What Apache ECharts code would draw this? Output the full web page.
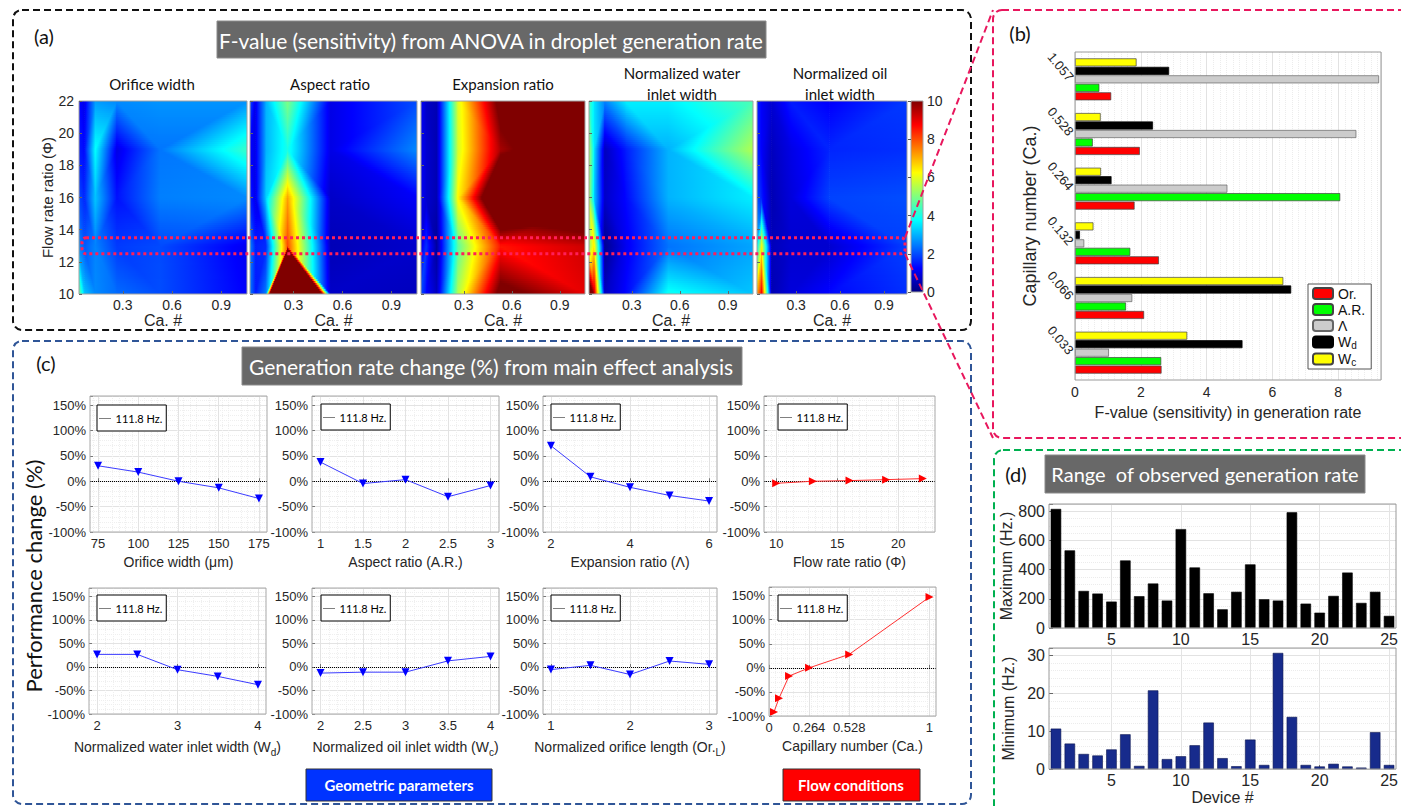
<!DOCTYPE html>
<html>
<head>
<meta charset="utf-8">
<script src="https://cdn.jsdelivr.net/npm/echarts@6/dist/echarts.min.js"></script>
<style>html,body{margin:0;padding:0;background:#fff;}#main{width:1401px;height:806px;}</style>
</head>
<body>
<div id="main"></div>
<script>
// ---------------- DATA ----------------
// (a) F-value maps: rows = flow rate ratio (phiValues), columns = capillary number (caValues)
const caValues = [0.033, 0.066, 0.132, 0.264, 0.528, 1.057];
const phiValues = [10, 13, 16, 19, 22];
const heatTickValues = [0.3, 0.6, 0.9];
const colorbarRange = [0, 10];
const heatTitles = [['Orifice width'], ['Aspect ratio'], ['Expansion ratio'], ['Normalized water', 'inlet width'], ['Normalized oil', 'inlet width']];

// (b) F-value at Φ = 13 for each Ca.
const caCategories = ['0.033', '0.066', '0.132', '0.264', '0.528', '1.057'];
const fOr = [2.63, 2.10, 2.55, 1.81, 1.97, 1.10];
const fAR = [2.62, 1.55, 1.68, 8.06, 0.54, 0.74];
const fLambda = [1.03, 1.74, 0.28, 4.63, 8.55, 9.24];
const fWd = [5.09, 6.57, 0.15, 1.11, 2.37, 2.86];
const fWc = [3.41, 6.33, 0.56, 0.79, 0.78, 1.87];

const fOrificeMap = [
  [5.0, 3.2, 2.6, 2.3, 2.0, 1.2],
  fOr,
  [2.0, 1.6, 3.2, 1.4, 2.5, 2.6],
  [1.5, 1.3, 3.8, 1.0, 2.4, 4.3],
  [1.3, 1.0, 2.8, 2.6, 2.7, 2.7]
];
const fAspectMap = [
  [2.5, 1.5, 2.5, 48, 0.7, 0.6],
  fAR,
  [1.6, 1.0, 3.3, 7.2, 0.7, 1.2],
  [1.3, 1.0, 3.0, 4.0, 1.0, 2.6],
  [2.0, 1.0, 3.0, 5.0, 1.0, 2.0]
];
const fExpansionMap = [
  [2.0, 1.3, 0.6, 5.5, 10.5, 9.0],
  fLambda,
  [1.2, 0.8, 0.5, 6.3, 13, 12],
  [1.2, 0.8, 0.5, 5.8, 9.6, 12],
  [1.3, 0.7, 0.5, 5.9, 10.5, 12]
];
const fWaterMap = [
  [12, 9.5, 0.6, 1.3, 3.9, 3.2],
  fWd,
  [5.5, 3.3, 0.7, 1.3, 3.0, 3.6],
  [5.5, 3.5, 0.6, 1.5, 3.0, 5.5],
  [4.5, 3.5, 2.5, 3.6, 3.6, 4.5]
];
const fOilMap = [
  [7, 9, 0.5, 0.9, 1.3, 1.7],
  fWc,
  [2.0, 1.5, 0.5, 0.9, 1.9, 2.0],
  [1.6, 1.2, 0.6, 1.0, 1.6, 1.7],
  [1.6, 1.2, 0.8, 1.5, 1.2, 1.8]
];

// (c) main effect: generation rate change (%)
const orificeWidth = [75, 100, 125, 150, 175];
const orificeChange = [30.5, 18, 0, -13, -34];
const aspectRatio = [1, 1.5, 2, 2.5, 3];
const aspectChange = [37.7, -4.5, 3.2, -30.5, -8.4];
const expansionRatio = [2, 3, 4, 5, 6];
const expansionChange = [70, 8.7, -12, -28, -39];
const flowRatio = [10, 13, 16, 19, 22];
const flowChange = [-4, 0, 1.3, 3.2, 5.2];
const waterInlet = [2, 2.5, 3, 3.5, 4];
const waterChange = [26.8, 26.8, -5.8, -20, -37.7];
const oilInlet = [2, 2.5, 3, 3.5, 4];
const oilChange = [-13, -11, -11, 13, 22.5];
const orificeLength = [1, 1.5, 2, 2.5, 3];
const lengthChange = [-5.6, 3.5, -16, 12.7, 5.6];
const capillary = [0.033, 0.066, 0.132, 0.264, 0.528, 1.057];
const capillaryChange = [-91.5, -63, -17, 0, 28, 147];
const baselineName = '111.8 Hz.';
const baselineValue = 0;
const changeTicks = [
  [75, 100, 125, 150, 175], [1, 1.5, 2, 2.5, 3], [2, 4, 6], [10, 15, 20],
  [2, 3, 4], [2, 2.5, 3, 3.5, 4], [1, 2, 3], [0, 0.264, 0.528, 1.057]
];
const capillaryTickLabels = {'0': '0', '0.264': '0.264', '0.528': '0.528', '1.057': '1'};

// (d) observed generation rate per device
const deviceNumbers = [1,2,3,4,5,6,7,8,9,10,11,12,13,14,15,16,17,18,19,20,21,22,23,24,25];
const maxRate = [816, 532, 254, 236, 181, 463, 218, 305, 188, 678, 415, 238, 128, 248, 436, 197, 188, 793, 167, 105, 220, 380, 172, 248, 83];
const minRate = [10.7, 6.75, 4.0, 3.6, 5.2, 9.2, 0.85, 20.8, 2.65, 3.4, 6.3, 12.3, 2.9, 0.77, 7.8, 1.1, 30.7, 13.8, 1.1, 0.7, 1.4, 0.7, 0.4, 9.75, 1.1];
const deviceTicks = [5, 10, 15, 20, 25];

// ---------------- HELPERS ----------------
const AX = '"Liberation Sans", Arial, Helvetica, sans-serif';
const CAL = 'Lato, "Open Sans", sans-serif';
const TXT = '#262626';
const JET = [[0, [0, 0, 128]], [1.25, [0, 0, 255]], [3.75, [0, 255, 255]], [6.25, [255, 255, 0]], [8.75, [255, 0, 0]], [10, [128, 0, 0]]];
function jet(v) {
  v = Math.max(0, Math.min(10, v));
  for (let i = 0; i < JET.length - 1; i++) {
    const a = JET[i], b = JET[i + 1];
    if (v <= b[0]) {
      const t = (v - a[0]) / (b[0] - a[0]);
      return 'rgb(' + a[1].map((c, k) => Math.round(c + (b[1][k] - c) * t)).join(',') + ')';
    }
  }
  return 'rgb(128,0,0)';
}
// piecewise-linear row -> gradient stops that reproduce the jet colormap exactly
function knotGradient(knots) {
  const stops = [];
  for (let i = 0; i < knots.length - 1; i++) {
    const u0 = knots[i][0], a = knots[i][1], u1 = knots[i + 1][0], b = knots[i + 1][1];
    stops.push({offset: u0, color: jet(a)});
    if (u1 - u0 > 1e-6 && Math.abs(b - a) > 1e-9) {
      JET.forEach(s => {
        const bp = s[0];
        if ((bp - a) * (bp - b) < 0) stops.push({offset: u0 + (u1 - u0) * (bp - a) / (b - a), color: jet(bp)});
      });
    }
    stops.push({offset: u1, color: jet(b)});
  }
  stops.sort((p, q) => p.offset - q.offset);
  return {type: 'linear', x: 0, y: 0, x2: 1, y2: 0, colorStops: stops};
}
function buildCells(m) {
  const cells = [];
  for (let j = 0; j < phiValues.length - 1; j++)
    for (let i = 0; i < caValues.length - 1; i++)
      cells.push([caValues[i], caValues[i + 1], phiValues[j], phiValues[j + 1], m[j][i], m[j][i + 1], m[j + 1][i], m[j + 1][i + 1]]);
  return cells;
}
// each grid cell is split in two triangles (linear shading, like a filled contour of the grid)
function renderHeatCell(params, api) {
  const x0 = api.value(0), x1 = api.value(1), y0 = api.value(2), y1 = api.value(3);
  const v00 = api.value(4), v10 = api.value(5), v01 = api.value(6), v11 = api.value(7);
  const pA = api.coord([x0, y0]), pB = api.coord([x1, y1]);
  const left = pA[0], right = pB[0], bottom = pA[1], top = pB[1];
  const h = bottom - top, w = right - left;
  const mean = (v00 + v10 + v01 + v11) / 4;
  const dev = [Math.abs(v00 - mean), Math.abs(v10 - mean), Math.abs(v01 - mean), Math.abs(v11 - mean)];
  const far = dev.indexOf(Math.max.apply(null, dev));
  const diagBLTR = !(far === 0 || far === 3);
  const n = Math.max(1, Math.ceil(h / 2));
  const children = [];
  for (let k = 0; k < n; k++) {
    const s = (k + 0.5) / n;
    let knots;
    if (diagBLTR) {
      knots = [[0, v00 + s * (v01 - v00)], [s, v00 + s * (v11 - v00)], [1, v10 + s * (v11 - v10)]];
    } else {
      knots = [[0, v00 + s * (v01 - v00)], [1 - s, (1 - s) * v10 + s * v01], [1, v10 + s * (v11 - v10)]];
    }
    const yb = bottom - k * h / n;
    children.push({type: 'rect', silent: true, shape: {x: left - 0.3, y: yb - h / n - 0.5, width: w + 0.6, height: h / n + 1}, style: {fill: knotGradient(knots)}});
  }
  return {type: 'group', children};
}
function renderColorbar(params, api) {
  const pA = api.coord([api.value(0), api.value(2)]), pB = api.coord([api.value(1), api.value(3)]);
  const lo = api.value(2), hi = api.value(3);
  return {type: 'rect', silent: true, shape: {x: pA[0], y: pB[1], width: pB[0] - pA[0], height: pA[1] - pB[1]},
    style: {fill: {type: 'linear', x: 0, y: 1, x2: 0, y2: 0, colorStops: JET.map(s => ({offset: (s[0] - lo) / (hi - lo), color: jet(s[0])}))}}};
}
const zip = (xs, ys) => xs.map((x, i) => [x, ys[i]]);

// ---------------- OPTION ----------------
const grids = [], xAxes = [], yAxes = [], series = [], legends = [];

// (a) heat maps
const heatMaps = [fOrificeMap, fAspectMap, fExpansionMap, fWaterMap, fOilMap];
const heatBoxes = [[79, 168], [250, 167], [421, 164], [589, 164], [757, 150]];
heatMaps.forEach((m, k) => {
  grids.push({left: heatBoxes[k][0], top: 101, width: heatBoxes[k][1], height: 193, show: true, borderColor: '#a0a0a0', borderWidth: 1, backgroundColor: 'transparent', z: 10});
  xAxes.push({gridIndex: k, type: 'value', min: caValues[0], max: caValues[caValues.length - 1], z: 11,
    axisLine: {show: false}, splitLine: {show: false},
    axisTick: {inside: true, length: 3, customValues: heatTickValues, lineStyle: {color: '#666'}},
    axisLabel: {customValues: heatTickValues, fontSize: 14, color: TXT, fontFamily: AX, margin: 4},
    name: 'Ca. #', nameLocation: 'middle', nameGap: 17, nameTextStyle: {fontSize: 16, color: TXT, fontFamily: AX}});
  yAxes.push({gridIndex: k, type: 'value', min: 10, max: 22, interval: 2, z: 11,
    axisLine: {show: false}, splitLine: {show: false},
    axisTick: {inside: true, length: 3, lineStyle: {color: '#666'}},
    axisLabel: {show: k === 0, fontSize: 14, color: TXT, fontFamily: AX, margin: 5},
    name: k === 0 ? 'Flow rate ratio (Φ)' : '', nameLocation: 'middle', nameGap: 22, nameTextStyle: {fontSize: 15, color: TXT, fontFamily: AX}});
  series.push({type: 'custom', xAxisIndex: k, yAxisIndex: k, clip: true, silent: true, z: 2,
    encode: {x: [0, 1], y: [2, 3]}, renderItem: renderHeatCell, data: buildCells(m)});
});
// colorbar (grid 5)
grids.push({left: 911, top: 101, width: 12, height: 191, show: true, borderColor: '#a0a0a0', borderWidth: 1, backgroundColor: 'transparent', z: 10});
xAxes.push({gridIndex: 5, type: 'value', min: 0, max: 1, show: false});
yAxes.push({gridIndex: 5, type: 'value', position: 'right', min: colorbarRange[0], max: colorbarRange[1], interval: 2, z: 11,
  axisLine: {show: false}, splitLine: {show: false}, axisTick: {inside: true, length: 3, lineStyle: {color: '#555'}},
  axisLabel: {fontSize: 14, color: TXT, fontFamily: AX, margin: 4}});
series.push({type: 'custom', xAxisIndex: 5, yAxisIndex: 5, silent: true, encode: {x: [0, 1], y: [2, 3]},
  renderItem: renderColorbar, data: [[0, 1, colorbarRange[0], colorbarRange[1]]]});

// (b) grouped horizontal bars (grid 6)
grids.push({left: 1075, top: 52, width: 306, height: 328, show: true, borderColor: '#9a9a9a', borderWidth: 1, backgroundColor: 'transparent', z: 10});
xAxes.push({gridIndex: 6, type: 'value', min: 0, max: 9.3, interval: 2,
  axisLine: {show: false}, axisTick: {inside: true, length: 4, lineStyle: {color: '#666'}},
  minorTick: {show: false, splitNumber: 10},
  splitLine: {show: true, lineStyle: {color: '#e2e2e2'}},
  minorSplitLine: {show: true, lineStyle: {color: '#ececec', type: 'dotted'}},
  axisLabel: {formatter: v => (v % 2 === 0 ? String(v) : ''), fontSize: 14, color: TXT, fontFamily: AX, margin: 5},
  name: 'F-value (sensitivity) in generation rate', nameLocation: 'middle', nameGap: 24, nameTextStyle: {fontSize: 16, color: TXT, fontFamily: AX}});
yAxes.push({gridIndex: 6, type: 'category', data: caCategories,
  axisLine: {show: false}, axisTick: {show: false}, splitLine: {show: false},
  axisLabel: {rotate: -50, fontSize: 13, color: TXT, fontFamily: AX, margin: 4},
  name: 'Capillary number (Ca.)', nameLocation: 'middle', nameGap: 36, nameTextStyle: {fontSize: 18, color: TXT, fontFamily: AX}});
const barDefs = [
  ['W_c', fWc, '#ffff00', '#444'], ['W_d', fWd, '#000000', '#000'], ['Λ', fLambda, '#cccccc', '#666'],
  ['A.R.', fAR, '#00ff00', '#444'], ['Or.', fOr, '#ff0000', '#444']
];
barDefs.forEach(d => series.push({type: 'bar', name: d[0], xAxisIndex: 6, yAxisIndex: 6, data: d[1], barWidth: 8, barGap: '6%',
  itemStyle: {color: d[2], borderColor: d[3], borderWidth: 0.7}}));
legends.push({left: 1308, top: 284, orient: 'vertical', data: ['Or.', 'A.R.', 'Λ', 'W_d', 'W_c'], selectedMode: false,
  borderColor: '#555', borderWidth: 1, backgroundColor: '#fff', padding: [2, 6, 2, 4], itemWidth: 20, itemHeight: 11, itemGap: 1,
  formatter: n => (n.indexOf('W_') === 0 ? 'W{s|' + n.slice(2) + '}' : n),
  textStyle: {fontSize: 14, color: '#111', fontFamily: AX, lineHeight: 15, rich: {s: {fontSize: 10, fontFamily: AX, color: '#111', lineHeight: 15, padding: [6, 0, 0, 0]}}}});

// (d) bars (grid 7, 8)
const dGrids = [[504, 124, maxRate, 850, 200, 'Maximum (Hz.)', '#000000', '#000000', 4], [648, 125, minRate, 32, 10, 'Minimum (Hz.)', '#172b8c', '#0b1550', 5]];
dGrids.forEach((g, k) => {
  const gi = 7 + k;
  grids.push({left: 1049, top: g[0], width: 347, height: g[1], show: true, borderColor: '#9a9a9a', borderWidth: 1, backgroundColor: 'transparent', z: 10});
  xAxes.push({gridIndex: gi, type: 'value', min: 0.5, max: 25.5,
    axisLine: {show: false}, axisTick: {inside: true, length: 4, customValues: deviceTicks, lineStyle: {color: '#666'}},
    splitLine: {show: true, lineStyle: {color: '#e4e4e4'}},
    axisLabel: {customValues: deviceTicks, fontSize: 16, color: TXT, fontFamily: AX, margin: 3},
    name: k === 1 ? 'Device #' : '', nameLocation: 'middle', nameGap: 16, nameTextStyle: {fontSize: 16, color: TXT, fontFamily: AX}});
  yAxes.push({gridIndex: gi, type: 'value', min: 0, max: g[3], interval: g[4],
    axisLine: {show: false}, axisTick: {inside: true, length: 4, lineStyle: {color: '#666'}},
    minorTick: {show: false, splitNumber: g[8]},
    splitLine: {show: true, lineStyle: {color: '#e2e2e2'}},
    minorSplitLine: {show: true, lineStyle: {color: '#ececec', type: 'dotted'}},
    axisLabel: {formatter: v => (v % g[4] === 0 ? String(v) : ''), fontSize: 16, color: TXT, fontFamily: AX, margin: 4},
    name: g[5], nameLocation: 'middle', nameGap: 33, nameTextStyle: {fontSize: 16, color: TXT, fontFamily: AX}});
  series.push({type: 'bar', xAxisIndex: gi, yAxisIndex: gi, data: zip(deviceNumbers, g[2]), barWidth: 10.5,
    itemStyle: {color: g[6], borderColor: g[7], borderWidth: 0.6}});
});

// (c) line plots (grid 9..16)
const lineDefs = [
  {box: [90, 396, 177, 136], range: [70, 180], xs: orificeWidth, ys: orificeChange, name: 'Orifice width (μm)', red: false, leg: [97, 405]},
  {box: [312, 396, 187, 136], range: [0.9, 3.1], xs: aspectRatio, ys: aspectChange, name: 'Aspect ratio (A.R.)', red: false, leg: [321, 404]},
  {box: [543, 396, 174, 136], range: [1.8, 6.2], xs: expansionRatio, ys: expansionChange, name: 'Expansion ratio (Λ)', red: false, leg: [551, 404]},
  {box: [764, 396, 171, 136], range: [9, 23], xs: flowRatio, ys: flowChange, name: 'Flow rate ratio (Φ)', red: true, leg: [778, 404]},
  {box: [89, 588, 177, 126], range: [1.9, 4.1], xs: waterInlet, ys: waterChange, name: 'Normalized water inlet width (W{s|d})', red: false, leg: [97, 595]},
  {box: [312, 588, 187, 126], range: [1.9, 4.1], xs: oilInlet, ys: oilChange, name: 'Normalized oil inlet width (W{s|c})', red: false, leg: [321, 595]},
  {box: [543, 588, 174, 126], range: [0.9, 3.1], xs: orificeLength, ys: lengthChange, name: 'Normalized orifice length (Or.{s|L})', red: false, leg: [551, 595]},
  {box: [769, 587, 167, 129], range: [0, 1.1], xs: capillary, ys: capillaryChange, name: 'Capillary number (Ca.)', red: true, leg: [778, 595]}
];
lineDefs.forEach((d, k) => {
  const gi = 9 + k;
  grids.push({left: d.box[0], top: d.box[1], width: d.box[2], height: d.box[3], show: true, borderColor: '#a8a8a8', borderWidth: 1, backgroundColor: 'transparent', z: 10});
  xAxes.push({gridIndex: gi, type: 'value', min: d.range[0], max: d.range[1],
    axisLine: {show: false},
    axisTick: {inside: true, length: 3, customValues: changeTicks[k], lineStyle: {color: '#777'}},
    splitLine: {show: true, lineStyle: {color: '#e3e3e3'}},
    minorTick: {show: false, splitNumber: 5},
    minorSplitLine: {show: true, lineStyle: {color: '#efefef', type: 'dotted'}},
    axisLabel: {customValues: changeTicks[k], fontSize: 13, color: TXT, fontFamily: AX, margin: 5,
      formatter: k === 7 ? (v => capillaryTickLabels[String(v)] !== undefined ? capillaryTickLabels[String(v)] : String(v)) : null},
    name: d.name, nameLocation: 'middle', nameGap: 23,
    nameTextStyle: {fontSize: 14, color: TXT, fontFamily: AX, rich: {s: {fontSize: 10, color: TXT, fontFamily: AX, padding: [10, 0, 0, 0]}}}});
  yAxes.push({gridIndex: gi, type: 'value', min: -100, max: 168, interval: 50,
    axisLine: {show: false}, axisTick: {inside: true, length: 3, lineStyle: {color: '#777'}},
    splitLine: {show: true, lineStyle: {color: '#e3e3e3'}},
    minorTick: {show: false, splitNumber: 5},
    minorSplitLine: {show: true, lineStyle: {color: '#efefef', type: 'dotted'}},
    axisLabel: {formatter: v => (v % 50 === 0 ? v + '%' : ''), fontSize: 13, color: TXT, fontFamily: AX, margin: 4}});
  const col = d.red ? '#ff0000' : '#0000ff';
  series.push({type: 'line', name: baselineName, xAxisIndex: gi, yAxisIndex: gi, data: [], symbol: 'none',
    lineStyle: {color: '#000', width: 1, type: [1, 1]}, itemStyle: {color: '#000'},
    markLine: {silent: true, symbol: ['none', 'none'], label: {show: false}, lineStyle: {color: '#000', width: 1, type: 'dotted'},
      data: [{yAxis: baselineValue}]}});
  series.push({type: 'line', xAxisIndex: gi, yAxisIndex: gi, data: zip(d.xs, d.ys), z: 5,
    symbol: 'triangle', symbolSize: 8, symbolRotate: d.red ? -90 : 180, showAllSymbol: true,
    lineStyle: {color: d.red ? '#ff3030' : '#3b3bff', width: 1}, itemStyle: {color: col}});
  legends.push({left: d.leg[0], top: d.leg[1], data: [baselineName], selectedMode: false, z: 20,
    borderColor: '#000', borderWidth: 1, backgroundColor: '#fff', padding: [8, 4, 7, 2], itemWidth: 11, itemHeight: 8,
    itemStyle: {opacity: 0}, lineStyle: {color: '#000', type: [1, 1], width: 1},
    textStyle: {fontSize: 11, color: '#000', fontFamily: CAL}});
});

const chart = echarts.init(document.getElementById('main'), null, {renderer: 'svg', width: 1401, height: 806});
chart.setOption({
  animation: false,
  backgroundColor: '#fff',
  textStyle: {fontFamily: AX},
  grid: grids, xAxis: xAxes, yAxis: yAxes, series: series, legend: legends
});

// ---------------- ANNOTATIONS ----------------
function txt(text, x, y, o) {
  o = o || {};
  return {type: 'text', x: x, y: y, z: 100, silent: true, rotation: o.rotation || 0,
    style: {text: text, fill: o.fill || '#111', fontSize: o.size || 15, fontFamily: o.family || CAL, fontWeight: o.weight || 'normal',
      align: o.align || 'center', verticalAlign: 'middle', textAlign: o.align || 'center', textVerticalAlign: 'middle'}};
}
function box(x, y, w, h, fill, stroke) {
  return {type: 'rect', z: 90, silent: true, shape: {x: x, y: y, width: w, height: h}, style: {fill: fill, stroke: stroke, lineWidth: 1}};
}
function dashed(x, y, w, h, color) {
  return {type: 'rect', z: 80, silent: true, shape: {x: x, y: y, width: w, height: h, r: 9}, style: {fill: 'none', stroke: color, lineWidth: 2, lineDash: [7, 4]}};
}
const g = [];
g.push(dashed(13, 10, 958, 320, '#111111'));
g.push(dashed(13, 341, 958, 463, '#2f5597'));
g.push(dashed(993, 10, 430, 428, '#e8175d'));
g.push(dashed(994, 450, 430, 380, '#00b050'));
g.push(txt('(a)', 44, 36, {size: 20}));
g.push(txt('(b)', 1020, 33, {size: 20}));
g.push(txt('(c)', 46, 363, {size: 20}));
g.push(txt('(d)', 1016, 474, {size: 20}));
g.push(box(217, 21, 549, 37, '#686868', '#8a8a8a'));
g.push(txt('F-value (sensitivity) from ANOVA in droplet generation rate', 491, 40, {size: 21, fill: '#fff'}));
g.push(box(242, 347, 500, 38, '#686868', '#8a8a8a'));
g.push(txt('Generation rate change (%) from main effect analysis', 491, 366, {size: 21, fill: '#fff'}));
g.push(box(1045, 455, 320, 38, '#686868', '#8a8a8a'));
g.push(txt('Range  of observed generation rate', 1205, 474, {size: 20, fill: '#fff'}));
const titleCx = [152, 330, 503, 682, 840];
heatTitles.forEach((t, k) => {
  if (t.length === 1) g.push(txt(t[0], titleCx[k], 84, {size: 15}));
  else { g.push(txt(t[0], titleCx[k], 73, {size: 15})); g.push(txt(t[1], titleCx[k], 94, {size: 15})); }
});
g.push(txt('Performance change (%)', 33, 576, {size: 22, rotation: Math.PI / 2}));
g.push(box(306, 769, 186, 32, '#0033ff', '#333'));
g.push(txt('Geometric parameters', 399, 785, {size: 15, fill: '#fff', weight: 'bold'}));
g.push(box(783, 769, 137, 32, '#ff0000', '#333'));
g.push(txt('Flow conditions', 851, 785, {size: 15, fill: '#fff', weight: 'bold'}));

// highlight of Φ = 13 row and link to panel (b)
const pT = chart.convertToPixel({gridIndex: 0}, [caValues[0], 13.5]);
const pB = chart.convertToPixel({gridIndex: 0}, [caValues[0], 12.5]);
const pR = chart.convertToPixel({gridIndex: 4}, [caValues[caValues.length - 1], 13.5]);
const rx = pT[0] + 3, rRight = pR[0] - 2;
g.push({type: 'rect', z: 95, silent: true, shape: {x: rx, y: pT[1], width: rRight - rx, height: pB[1] - pT[1], r: 4},
  style: {fill: 'none', stroke: '#ff1f5a', lineWidth: 3, lineDash: [3, 3]}});
g.push({type: 'line', z: 95, silent: true, shape: {x1: rRight, y1: pT[1], x2: 993, y2: 10}, style: {stroke: '#e8175d', lineWidth: 2, lineDash: [7, 4]}});
g.push({type: 'line', z: 95, silent: true, shape: {x1: rRight, y1: pB[1], x2: 993, y2: 438}, style: {stroke: '#e8175d', lineWidth: 2, lineDash: [7, 4]}});
chart.setOption({graphic: {elements: g}});
</script>
</body>
</html>
